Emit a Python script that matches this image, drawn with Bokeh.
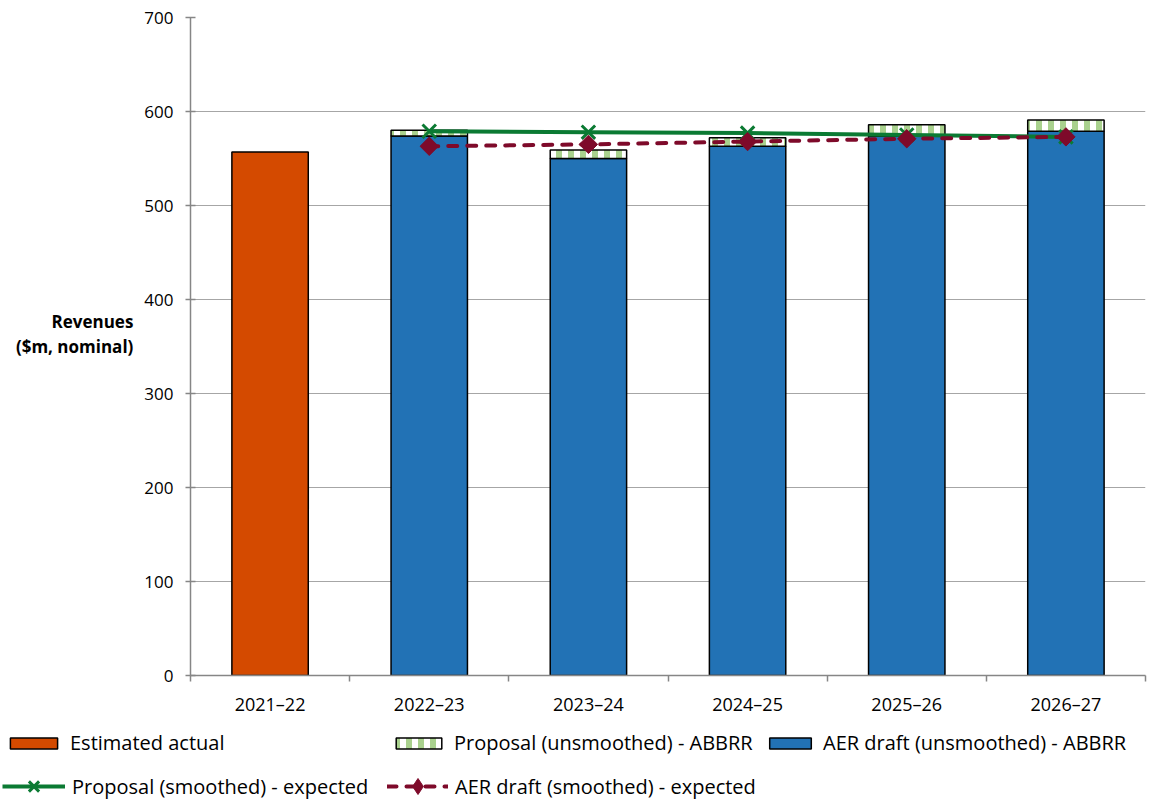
import numpy as np
from bokeh.plotting import figure
from bokeh.layouts import column
from bokeh.models import Range1d, FixedTicker, Legend, LegendItem
from bokeh.embed import file_html
from bokeh.resources import INLINE

# ---- data ----
years = ["2021–22", "2022–23", "2023–24", "2024–25", "2025–26", "2026–27"]
estimated_actual = [557]                          # 2021–22
aer_unsmoothed = [574, 550, 563, 574, 579]        # 2022–23 .. 2026–27
proposal_unsmoothed = [580, 559, 572, 586, 591]
proposal_smoothed = [579, 578, 577, 575, 573]
aer_smoothed = [563, 565, 568, 571, 573]
y_ticks = [0, 100, 200, 300, 400, 500, 600, 700]

FONT = "Open Sans"
ORANGE = "#D44A00"
BLUE = "#2272B5"
GREEN = "#0B7A33"
RED = "#7E0A2A"
LGREEN = "#A9D18E"
GRID = "#A6A6A6"
AXIS = "#868686"

xpos = [i + 0.5 for i in range(len(years))]
x_est = xpos[:1]
x_fc = xpos[1:]

p = figure(width=1162, height=720, output_backend="svg", toolbar_location=None,
           x_range=Range1d(0, len(years)), y_range=Range1d(0, 700),
           min_border_left=190, min_border_right=17, min_border_top=17,
           min_border_bottom=45)
p.outline_line_color = None
p.background_fill_color = "white"
p.border_fill_color = "white"

BW = 0.48
bar_est = dict(fill_color=ORANGE, line_color="black", line_width=1.5)
bar_aer = dict(fill_color=BLUE, line_color="black", line_width=1.5)
bar_prop = dict(fill_color="white", line_color="black", line_width=1.5,
                hatch_pattern="vertical_line", hatch_color=LGREEN,
                hatch_weight=6, hatch_scale=12)
ln_prop = dict(line_color=GREEN, line_width=4)
mk_prop = dict(marker="x", size=19, line_color=GREEN, line_width=3)
ln_aer = dict(line_color=RED, line_width=4, line_dash="9 10", line_cap="round")
mk_aer = dict(marker="square", angle=np.pi / 4, size=13, fill_color=RED, line_color=RED)

def draw_series(fig, aer_marker=None):
    r = {}
    r["est"] = fig.vbar(x=x_est, top=estimated_actual, bottom=0, width=BW, **bar_est)
    r["aer"] = fig.vbar(x=x_fc, top=aer_unsmoothed, bottom=0, width=BW, **bar_aer)
    r["prop"] = fig.vbar(x=x_fc, top=proposal_unsmoothed, bottom=aer_unsmoothed,
                         width=BW, **bar_prop)
    r["lp"] = fig.line(x=x_fc, y=proposal_smoothed, **ln_prop)
    r["mp"] = fig.scatter(x=x_fc, y=proposal_smoothed, **mk_prop)
    r["la"] = fig.line(x=x_fc, y=aer_smoothed, **ln_aer)
    r["ma"] = fig.scatter(x=x_fc, y=aer_smoothed, **(aer_marker or mk_aer))
    return r

draw_series(p)

# ---- axes ----
xa = p.xaxis[0]
xa.ticker = FixedTicker(ticks=xpos, minor_ticks=list(range(len(years) + 1)))
xa.major_label_overrides = {x: y for x, y in zip(xpos, years)}
xa.major_tick_line_color = None
xa.major_tick_out = 6
xa.major_tick_in = 0
xa.minor_tick_line_color = AXIS
xa.minor_tick_line_width = 1.5
xa.minor_tick_out = 6
xa.minor_tick_in = 0
xa.axis_line_color = AXIS
xa.axis_line_width = 1.5
xa.major_label_standoff = 10
xa.major_label_text_font = FONT
xa.major_label_text_font_size = "18px"
xa.major_label_text_color = "black"

ya = p.yaxis[0]
ya.ticker = FixedTicker(ticks=y_ticks, minor_ticks=[])
ya.axis_line_color = AXIS
ya.axis_line_width = 1.5
ya.major_tick_line_color = AXIS
ya.major_tick_line_width = 1.5
ya.major_tick_in = 5
ya.major_tick_out = 5
ya.minor_tick_line_color = None
ya.major_label_standoff = 12
ya.major_label_text_font = FONT
ya.major_label_text_font_size = "17px"
ya.major_label_text_color = "black"
ya.axis_label = "Revenues\n($m, nominal)\n "
ya.axis_label_orientation = "horizontal"
ya.axis_label_standoff = 8
ya.axis_label_text_font = FONT
ya.axis_label_text_font_size = "17px"
ya.axis_label_text_font_style = "bold"
ya.axis_label_text_color = "black"
ya.axis_label_text_align = "center"
ya.axis_label_text_line_height = 1.1

p.xgrid.grid_line_color = None
p.ygrid.ticker = FixedTicker(ticks=y_ticks)
p.ygrid.grid_line_color = GRID
p.ygrid.grid_line_width = 1.2

# ---- legend strip (separate figure under the chart; its renderers are hidden) ----
lg = figure(width=1162, height=83, output_backend="svg", toolbar_location=None,
            x_axis_type=None, y_axis_type=None,
            x_range=Range1d(0, len(years)), y_range=Range1d(700, 800),
            min_border_left=0, min_border_right=0, min_border_top=0, min_border_bottom=0)
lg.frame_align = False
lg.outline_line_color = None
lg.xgrid.visible = False
lg.ygrid.visible = False
g = draw_series(lg, aer_marker=dict(marker="diamond", size=13,
                                    fill_color=RED, line_color=RED))
for r in g.values():
    r.visible = False

def add_leg(label, renderers, x, y, gw, gh=14):
    leg = Legend(items=[LegendItem(label=label, renderers=renderers)],
                 location=(x, y), orientation="horizontal", click_policy="none",
                 border_line_color=None, background_fill_alpha=0,
                 padding=0, margin=0, spacing=0, label_standoff=7,
                 glyph_width=gw, glyph_height=gh, label_height=22,
                 label_text_font=FONT, label_text_font_size="20px",
                 label_text_color="black", label_text_baseline="middle")
    lg.add_layout(leg, "center")

add_leg("Estimated actual", [g["est"]], 4, 47, 59)
add_leg("Proposal (unsmoothed) - ABBRR", [g["prop"]], 390, 47, 57)
add_leg("AER draft (unsmoothed) - ABBRR", [g["aer"]], 764, 47, 52)
add_leg("Proposal (smoothed) - expected", [g["lp"], g["mp"]], 2, -1, 63, 36)
add_leg("AER draft (smoothed) - expected", [g["la"], g["ma"]], 387, -3, 61, 40)

open("out.html", "w").write(file_html(column(p, lg, spacing=0), INLINE))
